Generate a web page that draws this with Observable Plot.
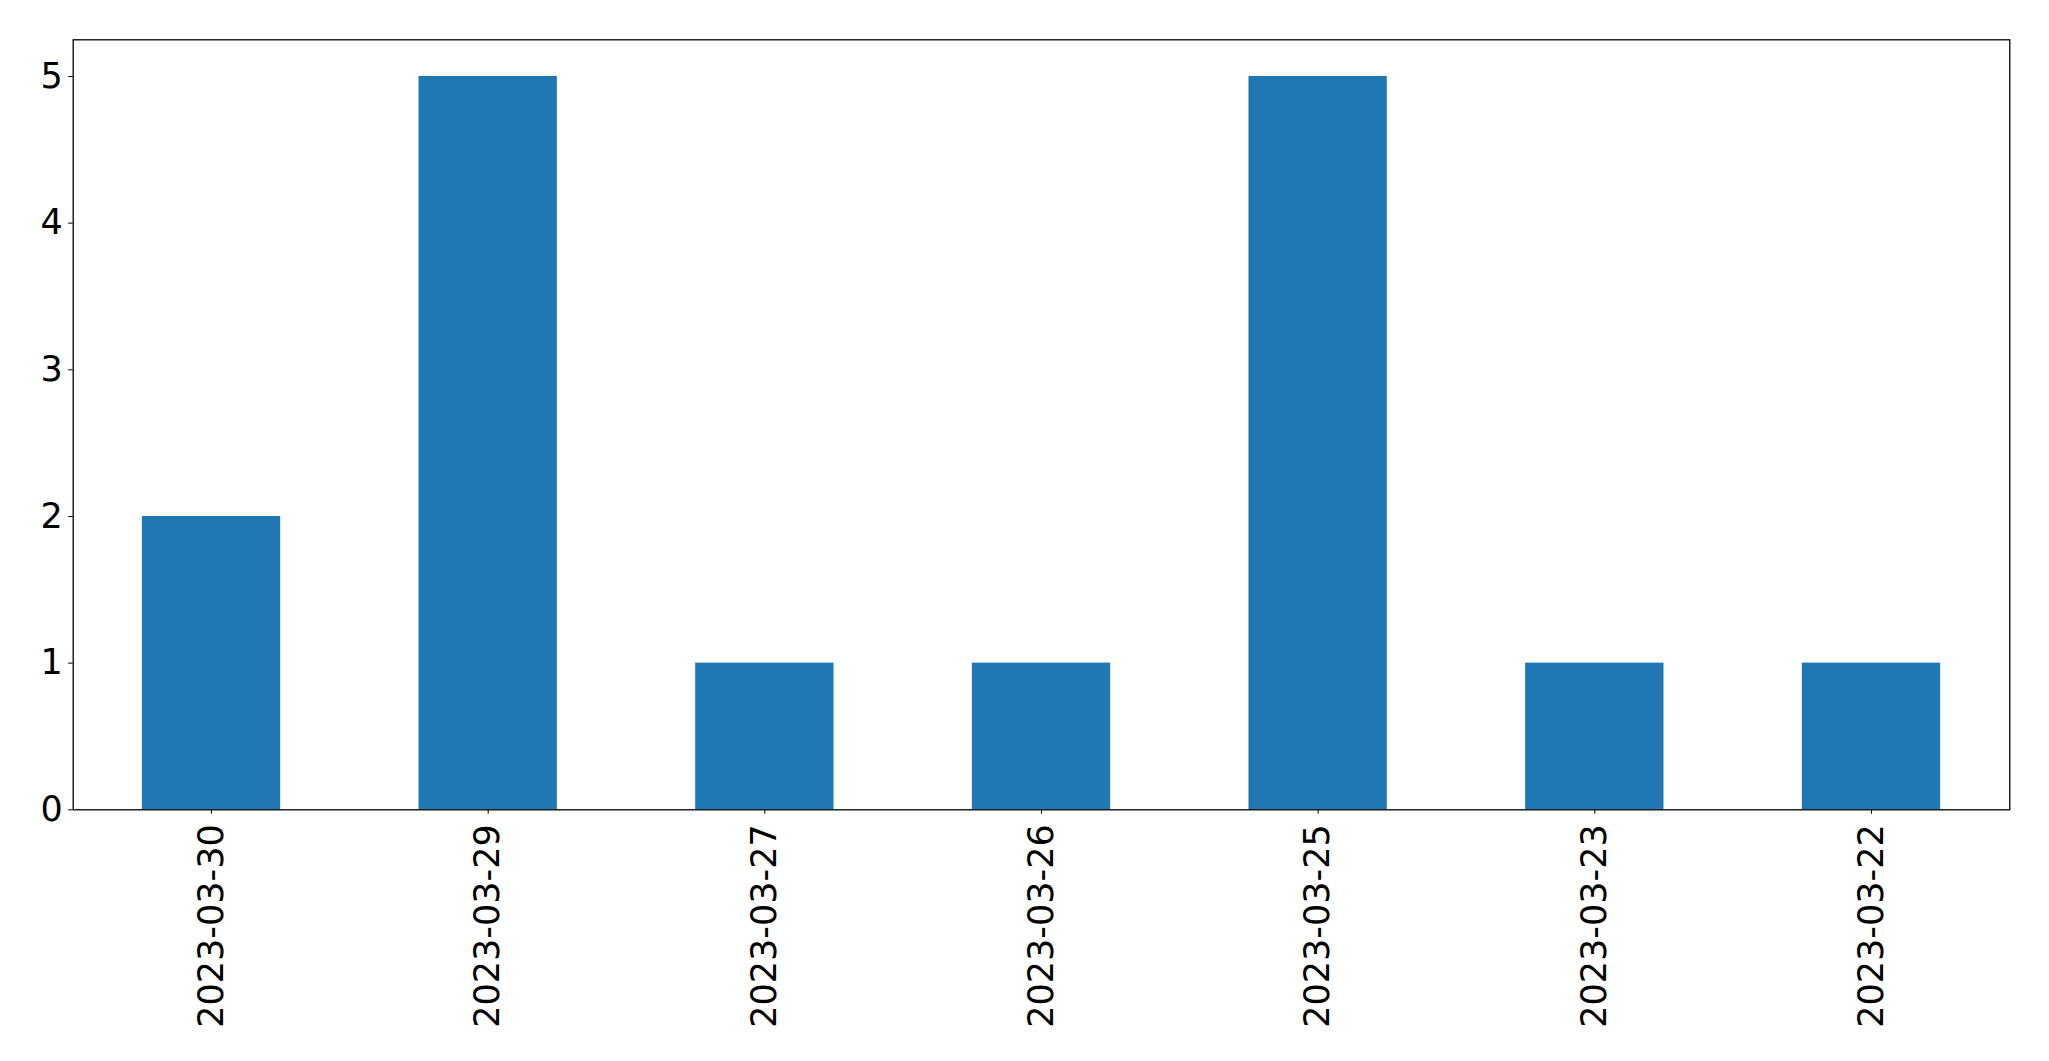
<!DOCTYPE html>
<html>
<head>
<meta charset="utf-8">
<script src="https://cdn.jsdelivr.net/npm/d3@7"></script>
<script src="https://cdn.jsdelivr.net/npm/@observablehq/plot@0.6"></script>
<style>
  html, body { margin: 0; padding: 0; background: #fff; }
  #chart svg { display: block; }
</style>
</head>
<body>
<div id="chart"></div>
<script>
const dates = ["2023-03-30", "2023-03-29", "2023-03-27", "2023-03-26", "2023-03-25", "2023-03-23", "2023-03-22"];
const counts = [2, 5, 1, 1, 5, 1, 1];
const yTicks = [0, 1, 2, 3, 4, 5];

const data = dates.map((d, i) => ({date: d, value: counts[i]}));

const chart = Plot.plot({
  width: 2049,
  height: 1061,
  marginLeft: 72.7,
  marginRight: 39.7,
  marginTop: 39.3,
  marginBottom: 251.7,
  style: {fontFamily: "DejaVu Sans", fontSize: "35px", color: "black", background: "white"},
  x: {type: "band", domain: dates, paddingInner: 0.5, paddingOuter: 0.25, align: 0.5, round: false},
  y: {domain: [0, 5.25]},
  marks: [
    Plot.barY(data, {x: "date", y: "value", fill: "#1f77b4", inset: 0}),
    Plot.axisY({ticks: yTicks, tickSize: 4.5, tickPadding: 6, label: null, fontSize: 35, tickFormat: d => String(d)}),
    Plot.axisX({tickRotate: -90, tickSize: 4.5, tickPadding: 10, label: null, fontSize: 35}),
    Plot.frame({stroke: "black", strokeWidth: 1.3})
  ]
});
document.getElementById("chart").appendChild(chart);
</script>
</body>
</html>
